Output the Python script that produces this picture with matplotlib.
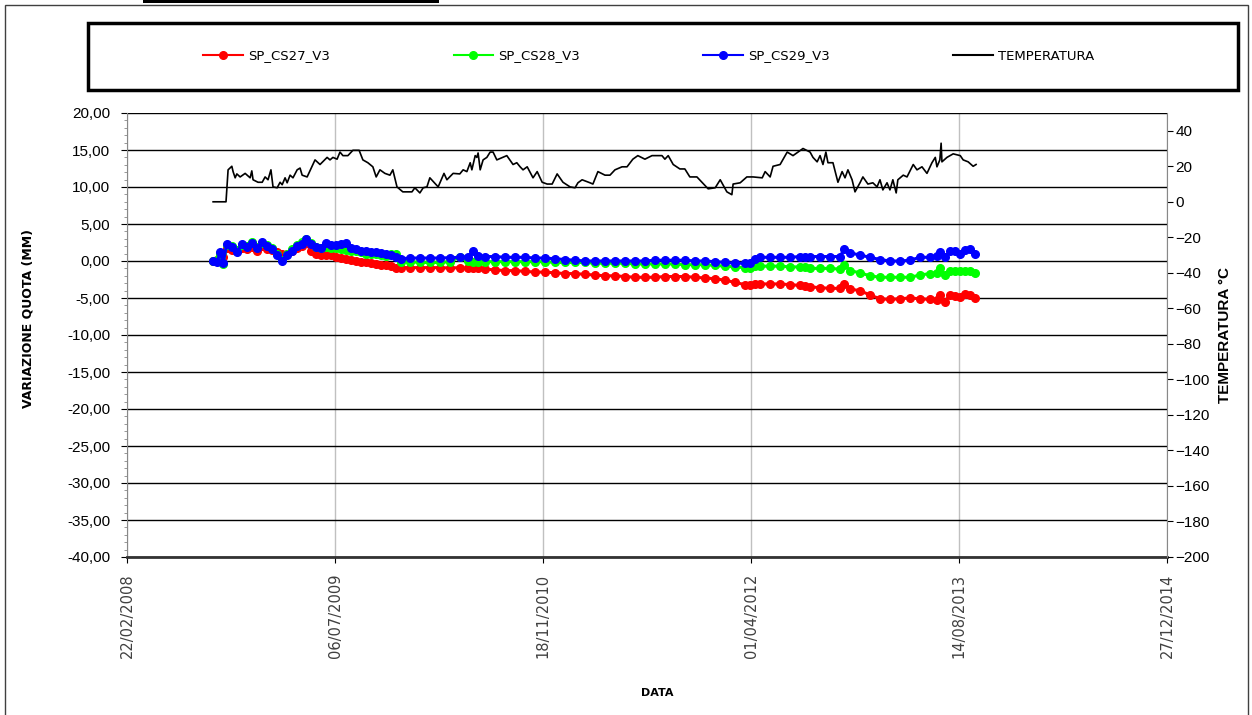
import matplotlib
matplotlib.use("Agg")
import matplotlib.pyplot as plt
import matplotlib.dates as mdates
import pandas as pd
from matplotlib.lines import Line2D
from matplotlib.patches import Rectangle
from matplotlib.ticker import FuncFormatter, MultipleLocator, FixedLocator

# date ticks of the x axis
tick_labels = ['22/02/2008', '06/07/2009', '18/11/2010', '01/04/2012', '14/08/2013', '27/12/2014']

# survey dates (shared by the three benchmarks)
survey_dates = [
    '2008-09-16', '2008-09-25', '2008-10-03', '2008-10-10', '2008-10-19', '2008-10-31',
    '2008-11-12', '2008-11-24', '2008-12-06', '2008-12-18', '2008-12-31', '2009-01-12',
    '2009-01-24', '2009-02-05', '2009-02-17', '2009-03-01', '2009-03-13', '2009-03-25',
    '2009-04-06', '2009-04-18', '2009-04-27', '2009-05-09', '2009-05-21', '2009-06-02',
    '2009-06-14', '2009-06-26', '2009-07-08', '2009-07-20', '2009-08-01', '2009-08-14',
    '2009-08-26', '2009-09-07', '2009-09-19', '2009-10-01', '2009-10-13', '2009-10-25',
    '2009-11-06', '2009-11-18', '2009-11-30', '2009-12-12', '2010-01-02', '2010-01-26',
    '2010-02-19', '2010-03-15', '2010-04-08', '2010-05-03', '2010-05-22', '2010-06-03',
    '2010-06-15', '2010-07-02', '2010-07-26', '2010-08-19', '2010-09-12', '2010-10-06',
    '2010-10-30', '2010-11-23', '2010-12-17', '2011-01-10', '2011-02-03', '2011-02-27',
    '2011-03-23', '2011-04-16', '2011-05-10', '2011-06-03', '2011-06-27', '2011-07-21',
    '2011-08-14', '2011-09-07', '2011-10-01', '2011-10-25', '2011-11-19', '2011-12-13',
    '2012-01-06', '2012-01-30', '2012-02-23', '2012-03-18', '2012-03-30', '2012-04-11',
    '2012-04-23', '2012-05-17', '2012-06-10', '2012-07-04', '2012-07-28', '2012-08-09',
    '2012-08-21', '2012-09-14', '2012-10-08', '2012-11-01', '2012-11-11', '2012-11-25',
    '2012-12-19', '2013-01-12', '2013-02-05', '2013-03-01', '2013-03-25', '2013-04-18',
    '2013-05-12', '2013-06-05', '2013-06-22', '2013-06-29', '2013-07-11', '2013-07-23',
    '2013-08-05', '2013-08-17', '2013-08-29', '2013-09-10', '2013-09-22',
]

cs27 = [
    0.0, 0.1, 0.8, 0.5, 1.8, 1.5, 1.3, 1.8, 1.6, 1.9, 1.4, 2.0,
    1.6, 1.5, 1.2, 1.0, 1.0, 1.3, 1.8, 2.0, 2.5, 1.4, 1.0, 0.8,
    0.8, 0.8, 0.5, 0.4, 0.3, 0.1, 0.0, -0.1, -0.2, -0.3, -0.4, -0.5,
    -0.6, -0.7, -0.9, -0.9, -0.9, -0.9, -0.9, -0.9, -0.95, -0.9, -1.0, -0.9,
    -1.0, -1.1, -1.2, -1.3, -1.3, -1.4, -1.5, -1.5, -1.6, -1.7, -1.7, -1.8,
    -1.9, -2.0, -2.0, -2.1, -2.2, -2.2, -2.2, -2.1, -2.1, -2.1, -2.2, -2.3,
    -2.4, -2.6, -2.9, -3.2, -3.2, -3.1, -3.1, -3.1, -3.1, -3.2, -3.3, -3.4,
    -3.5, -3.6, -3.7, -3.7, -3.1, -3.8, -4.0, -4.6, -5.1, -5.2, -5.1, -5.0,
    -5.1, -5.2, -5.3, -4.6, -5.5, -4.6, -4.7, -4.8, -4.4, -4.6, -5.0,
]

cs28 = [
    0.0, 0.2, 1.0, -0.4, 2.2, 2.0, 1.5, 2.2, 2.0, 2.6, 1.9, 2.4,
    2.1, 1.7, 1.0, 0.2, 1.0, 1.6, 2.2, 2.6, 3.0, 2.4, 1.9, 1.7,
    1.9, 1.8, 1.7, 1.6, 1.5, 1.4, 1.4, 1.2, 1.0, 0.9, 0.9, 0.8,
    0.7, 0.9, 1.0, -0.1, -0.1, -0.2, -0.2, -0.2, -0.1, 0.6, 0.0, -0.1,
    -0.1, -0.1, -0.1, -0.1, -0.1, -0.1, -0.1, -0.1, -0.2, -0.2, -0.2, -0.2,
    -0.3, -0.3, -0.3, -0.3, -0.4, -0.4, -0.4, -0.4, -0.4, -0.5, -0.5, -0.5,
    -0.6, -0.7, -0.8, -0.9, -1.0, -0.7, -0.7, -0.7, -0.7, -0.8, -0.8, -0.8,
    -1.0, -1.0, -1.0, -1.1, -0.5, -1.3, -1.6, -2.0, -2.2, -2.2, -2.2, -2.2,
    -1.9, -1.7, -1.6, -0.9, -1.9, -1.4, -1.4, -1.3, -1.3, -1.4, -1.6,
]

cs29 = [
    0.0, -0.2, 1.2, -0.3, 2.3, 1.9, 1.2, 2.3, 1.9, 2.4, 1.7, 2.6,
    2.0, 1.6, 0.8, 0.0, 0.8, 1.4, 2.0, 2.3, 3.0, 2.3, 1.9, 1.8,
    2.5, 2.2, 2.1, 2.3, 2.4, 1.8, 1.6, 1.4, 1.3, 1.2, 1.2, 1.1,
    1.0, 0.8, 0.6, 0.3, 0.4, 0.4, 0.4, 0.4, 0.45, 0.5, 0.6, 1.3,
    0.7, 0.6, 0.6, 0.5, 0.5, 0.5, 0.4, 0.4, 0.3, 0.2, 0.1, 0.0,
    0.0, 0.0, 0.0, 0.0, 0.0, 0.0, 0.1, 0.1, 0.1, 0.1, 0.0, 0.0,
    -0.1, -0.2, -0.3, -0.3, -0.3, 0.3, 0.5, 0.5, 0.5, 0.5, 0.6, 0.5,
    0.6, 0.6, 0.6, 0.6, 1.6, 1.1, 0.8, 0.5, 0.2, 0.0, 0.0, 0.1,
    0.5, 0.5, 0.7, 1.2, 0.5, 1.3, 1.4, 1.0, 1.5, 1.6, 1.0,
]

# air temperature
temp_dates = [
    '2008-09-16', '2008-10-17', '2008-10-22', '2008-10-31', '2008-11-03', '2008-11-08',
    '2008-11-12', '2008-11-20', '2008-12-02', '2008-12-14', '2008-12-18', '2008-12-21',
    '2009-01-02', '2009-01-12', '2009-01-19', '2009-01-26', '2009-02-02', '2009-02-07',
    '2009-02-17', '2009-02-24', '2009-03-01', '2009-03-08', '2009-03-13', '2009-03-20',
    '2009-03-27', '2009-04-06', '2009-04-13', '2009-04-18', '2009-04-30', '2009-05-19',
    '2009-05-31', '2009-06-17', '2009-06-24', '2009-07-01', '2009-07-11', '2009-07-18',
    '2009-07-25', '2009-08-06', '2009-08-18', '2009-09-02', '2009-09-11', '2009-09-23',
    '2009-10-05', '2009-10-13', '2009-10-22', '2009-11-03', '2009-11-15', '2009-11-22',
    '2009-12-02', '2009-12-16', '2010-01-07', '2010-01-14', '2010-01-26', '2010-02-03',
    '2010-02-12', '2010-02-19', '2010-03-11', '2010-03-25', '2010-04-01', '2010-04-16',
    '2010-05-02', '2010-05-10', '2010-05-19', '2010-05-27', '2010-05-31', '2010-06-08',
    '2010-06-12', '2010-06-15', '2010-06-20', '2010-06-27', '2010-07-06', '2010-07-14',
    '2010-07-21', '2010-07-30', '2010-08-23', '2010-09-07', '2010-09-16', '2010-09-24',
    '2010-10-01', '2010-10-11', '2010-10-25', '2010-11-04', '2010-11-16', '2010-11-28',
    '2010-12-10', '2010-12-22', '2011-01-05', '2011-01-22', '2011-02-03', '2011-02-10',
    '2011-02-20', '2011-03-11', '2011-03-18', '2011-03-30', '2011-04-16', '2011-04-28',
    '2011-05-10', '2011-05-27', '2011-06-08', '2011-06-22', '2011-07-04', '2011-07-21',
    '2011-08-07', '2011-08-31', '2011-09-07', '2011-09-15', '2011-09-27', '2011-10-13',
    '2011-10-25', '2011-11-06', '2011-11-23', '2011-12-05', '2011-12-20', '2012-01-06',
    '2012-01-18', '2012-02-03', '2012-02-15', '2012-02-18', '2012-03-06', '2012-03-22',
    '2012-04-06', '2012-04-28', '2012-05-05', '2012-05-17', '2012-05-24', '2012-06-10',
    '2012-06-27', '2012-07-11', '2012-08-04', '2012-08-21', '2012-08-28', '2012-09-07',
    '2012-09-14', '2012-09-21', '2012-09-28', '2012-10-03', '2012-10-15', '2012-10-27',
    '2012-11-06', '2012-11-13', '2012-11-20', '2012-11-30', '2012-12-07', '2012-12-19',
    '2012-12-26', '2013-01-07', '2013-01-19', '2013-01-29', '2013-02-05', '2013-02-12',
    '2013-02-22', '2013-03-01', '2013-03-08', '2013-03-16', '2013-03-20', '2013-04-02',
    '2013-04-11', '2013-04-26', '2013-05-05', '2013-05-17', '2013-05-29', '2013-06-10',
    '2013-06-18', '2013-06-22', '2013-06-29', '2013-07-02', '2013-07-04', '2013-07-16',
    '2013-07-31', '2013-08-17', '2013-08-24', '2013-09-05', '2013-09-17', '2013-09-24',
]

temp_values = [
    0, 0, 18, 20, 17, 13.5,
    15.7, 14, 16, 13.5, 17.4, 12.4,
    11, 11, 14, 12.4, 18, 8.4,
    7.9, 11, 9.6, 13.5, 10.7, 15,
    13.5, 18, 19, 15, 14, 23.6,
    21, 25, 23.6, 25, 24, 28,
    26, 26, 29, 29, 23.6, 22,
    19.7, 14, 18, 16, 15, 18,
    8.4, 5.6, 5.6, 7.9, 5, 7.9,
    8.4, 13.5, 8.4, 16, 12.4, 16,
    15.7, 18, 17, 22, 18, 26,
    25, 27.5, 18, 23.6, 25, 28,
    28, 23.6, 26, 21, 22, 19.7,
    18, 19.7, 13.5, 17, 11, 10,
    10, 15.7, 11, 8.4, 7.9, 10.7,
    12.4, 10.7, 10, 17, 15, 15,
    18, 19.7, 19.7, 24, 26, 24,
    26, 26, 24, 26, 21, 18.5,
    18.5, 14, 14, 11, 7.3, 7.9,
    12.4, 5.6, 4, 10, 10.7, 14,
    14, 13.5, 17, 14, 20, 21,
    28, 26, 30, 28, 25, 22.5,
    26, 21, 28, 22, 22, 11,
    17, 13.5, 18, 12.4, 5.6, 10.7,
    14, 10, 10.7, 8.4, 12.4, 6.7,
    10.7, 6.7, 12.4, 5, 12.4, 15,
    14, 21, 18, 19.7, 16, 22,
    25, 19.7, 23.6, 33, 22.5, 25,
    27, 26, 23.6, 22.5, 20, 21,
]

survey = pd.to_datetime(survey_dates)
tdates = pd.to_datetime(temp_dates)
ticks = pd.to_datetime(tick_labels, format='%d/%m/%Y')

plt.rcParams['font.family'] = ['Liberation Sans', 'DejaVu Sans']

fig = plt.figure(figsize=(12.52, 7.15), dpi=100)
ax = fig.add_axes([127 / 1252, 1 - 557 / 715, 1040 / 1252, 444 / 715])
ax2 = ax.twinx()

# displacement series
ax.plot(survey, cs27, color='#ff0000', lw=2.2, marker='o', ms=5.5, zorder=3)
ax.plot(survey, cs28, color='#00ff00', lw=2.2, marker='o', ms=5.5, zorder=4)
ax.plot(survey, cs29, color='#0000ff', lw=2.2, marker='o', ms=5.5, zorder=5)

# temperature on the right axis
ax2.plot(tdates, temp_values, color='black', lw=1.2)

ax.set_xlim(ticks[0], ticks[-1])
ax.set_ylim(-40, 20)
ax2.set_ylim(-200, 50)

ax.xaxis.set_major_locator(FixedLocator(mdates.date2num(ticks)))
ax.set_xticklabels(tick_labels, rotation=90, fontsize=10.5, color='#404040',
                   family='DejaVu Sans')
ax.yaxis.set_major_locator(MultipleLocator(5))
ax.yaxis.set_minor_locator(MultipleLocator(1))
ax.yaxis.set_major_formatter(FuncFormatter(lambda v, p: f"{v:.2f}".replace('.', ',')))
ax.tick_params(axis='y', which='major', direction='out', length=4, labelsize=11, pad=8)
ax.tick_params(axis='y', which='minor', direction='out', length=2, color='#888888')
ax.tick_params(axis='x', direction='out', length=4, pad=8)

ax2.yaxis.set_major_locator(FixedLocator(range(-200, 41, 20)))
ax2.tick_params(axis='y', direction='out', length=4, labelsize=11, pad=2)

# gridlines
ax.grid(True, axis='y', which='major', color='black', lw=1)
ax.grid(True, axis='x', which='major', color='#c0c0c0', lw=1)
ax.set_axisbelow(True)

for s in ['top', 'right']:
    ax.spines[s].set_visible(False)
for s in ['top', 'left', 'bottom']:
    ax2.spines[s].set_visible(False)
ax.spines['left'].set_color('#888888')
ax.spines['bottom'].set_color('#333333')
ax.spines['bottom'].set_linewidth(2)
ax2.spines['right'].set_color('#888888')

ax.set_ylabel('VARIAZIONE QUOTA (MM)', fontsize=9, fontweight='bold', family='DejaVu Sans')
ax.yaxis.set_label_coords(-0.089, 0.538)
ax2.set_ylabel('TEMPERATURA °C', fontsize=11, fontweight='bold')
ax2.yaxis.set_label_coords(1.049, 0.5)
ax.set_xlabel('DATA', fontsize=8, fontweight='bold', family='DejaVu Sans')
ax.xaxis.set_label_coords(0.51, -0.296)

# legend
handles = [
    Line2D([], [], color='#ff0000', lw=1.5, marker='o', ms=5.5),
    Line2D([], [], color='#00ff00', lw=1.5, marker='o', ms=5.5),
    Line2D([], [], color='#0000ff', lw=1.5, marker='o', ms=5.5),
    Line2D([], [], color='black', lw=1.5),
]
names = ['SP_CS27_V3', 'SP_CS28_V3', 'SP_CS29_V3', 'TEMPERATURA']
fig.legend(handles, names, loc='center', bbox_to_anchor=(649 / 1252, 1 - 56 / 715),
           ncol=4, frameon=False, handlelength=3, handletextpad=0.4, columnspacing=9.35,
           prop={'family': 'DejaVu Sans', 'size': 9.5})
fig.patches.append(Rectangle((88 / 1252, 1 - 90 / 715), 1150 / 1252, 67 / 715,
                             transform=fig.transFigure, fill=False, lw=2.5, ec='black'))

# outer frame and the cut-off title bar
fig.patches.append(Rectangle((5 / 1252, -0.05), 1243 / 1252, 1 - 5 / 715 + 0.05,
                             transform=fig.transFigure, fill=False, lw=1, ec='#404040'))
fig.patches.append(Rectangle((143 / 1252, 1 - 3 / 715), 296 / 1252, 3 / 715,
                             transform=fig.transFigure, fc='black', ec='none'))

fig.savefig('out.png', dpi=100)
